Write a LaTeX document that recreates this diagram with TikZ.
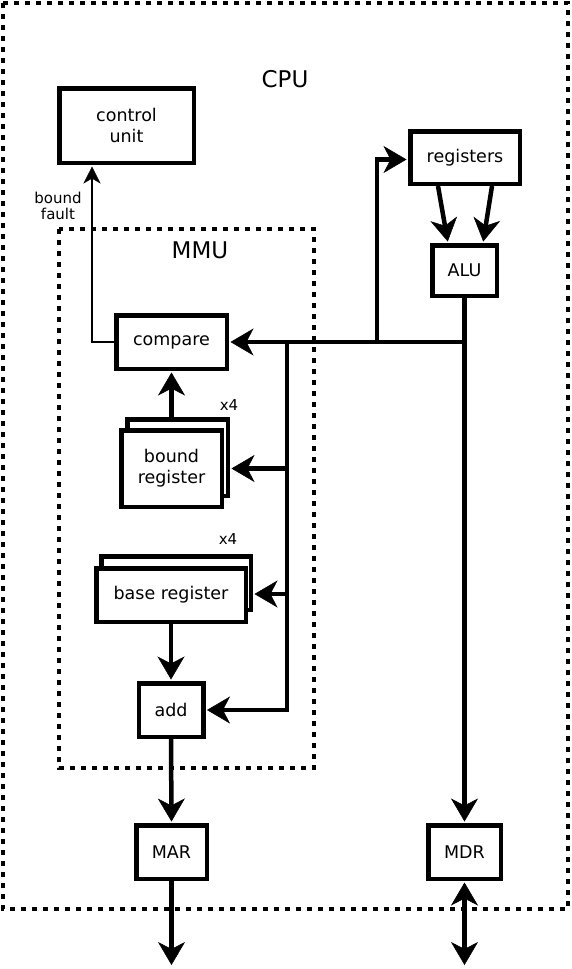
\documentclass[tikz,border=0pt]{standalone}
\usepackage{fontspec}
\setmainfont{DejaVu Sans}
\usetikzlibrary{arrows.meta}
\begin{document}
\begin{tikzpicture}[x=1pt,y=-1pt,
  box/.style={draw,line width=4.5pt,inner sep=0pt,align=center,
    font=\fontsize{17.5}{21}\selectfont,fill=white},
  bigtxt/.style={font=\fontsize{23}{27}\selectfont},
  smalltxt/.style={font=\fontsize{15}{16.5}\selectfont,align=center,inner sep=0pt},
  frame/.style={line width=4.5pt,dash pattern=on 5pt off 6pt},
  wire/.style={line width=4.5pt},
  tipL/.tip={Stealth[length=23pt,width=27pt,inset=7pt,line width=0.5pt]},
  arr/.style={line width=4.5pt,-tipL,shorten >=1.5pt},
  darr/.style={line width=4.5pt,tipL-tipL,shorten <=1.5pt},
  thinarr/.style={line width=1.5pt,-{Stealth[length=17pt,width=17pt,inset=5pt,line width=0.3pt]},shorten >=1.5pt}]
\useasboundingbox (0,0) rectangle (572,969);

% frames
\draw[frame] (3,3) rectangle (568,909);
\draw[frame] (59,229) rectangle (314,768);
\node[bigtxt] (cpulbl) at (285,79) {CPU};
\node[bigtxt] (mmulbl) at (200,250) {MMU};

% boxes
\node[box,minimum width=134.5pt,minimum height=74.5pt] (cu) at (126.5,125.5) {control\\unit};
\node[box,minimum width=109.5pt,minimum height=52.5pt] (reg) at (465,157.5) {registers};
\node[box,minimum width=64.5pt,minimum height=50.5pt] (alu) at (464.5,270.5) {ALU};
\node[box,minimum width=110.5pt,minimum height=53.5pt] (cmp) at (171.5,342) {compare};
\node[box,minimum width=100.5pt,minimum height=76.5pt] (boundb) at (177.5,457.5) {};
\node[box,minimum width=100.5pt,minimum height=76.5pt] (bound) at (171.5,468.5) {bound\\register};
\node[box,minimum width=149.5pt,minimum height=53.5pt] (baseb) at (176,583) {};
\node[box,minimum width=149.5pt,minimum height=53.5pt] (base) at (171,595) {base register};
\node[box,minimum width=64.5pt,minimum height=53.5pt] (add) at (171,710) {add};
\node[box,minimum width=70.5pt,minimum height=53.5pt] (mar) at (171.5,852) {MAR};
\node[box,minimum width=72.5pt,minimum height=53.5pt] (mdr) at (464.5,852) {MDR};

\node[smalltxt] (x4a) at (229,405) {x4};
\node[smalltxt] (x4b) at (228,539) {x4};
\node[smalltxt] (bf) at (58,206) {bound\\fault};

% coordinates
\coordinate (alubus) at (464.5,342);
\coordinate (regbus) at (377,342);
\coordinate (bus) at (287,342);
\coordinate (fault) at (92,342);
\coordinate (marout) at (171.5,965);
\coordinate (mdrout) at (464.5,965);

% connectors
\draw[thinarr] (cmp.west) -- (fault) -- (fault |- cu.south);
\draw[wire] (alu.south) -- (alubus);
\draw[arr] (alubus) -- (cmp.east);
\draw[arr] (alubus) -- (mdr.north);
\draw[arr] (regbus) |- ([yshift=-2pt]reg.west);
\draw[arr] ([xshift=-27pt]reg.south) -- ([xshift=-16.5pt]alu.north);
\draw[arr] ([xshift=27pt]reg.south) -- ([xshift=18.5pt]alu.north);
\draw[arr] (bus) |- (add.east);
\draw[arr] (bus |- bound.center) -- (boundb.east |- bound.center);
\draw[arr] (bus |- 0,594) -- (baseb.east |- 0,594);
\draw[arr] (boundb.north -| cmp.south) -- (cmp.south);
\draw[arr] (base.south) -- (add.north);
\draw[arr] (add.south) -- (mar.north);
\draw[arr,shorten >=0pt] (mar.south) -- (marout);
\draw[darr] (mdr.south) -- (mdrout);
\end{tikzpicture}
\end{document}
